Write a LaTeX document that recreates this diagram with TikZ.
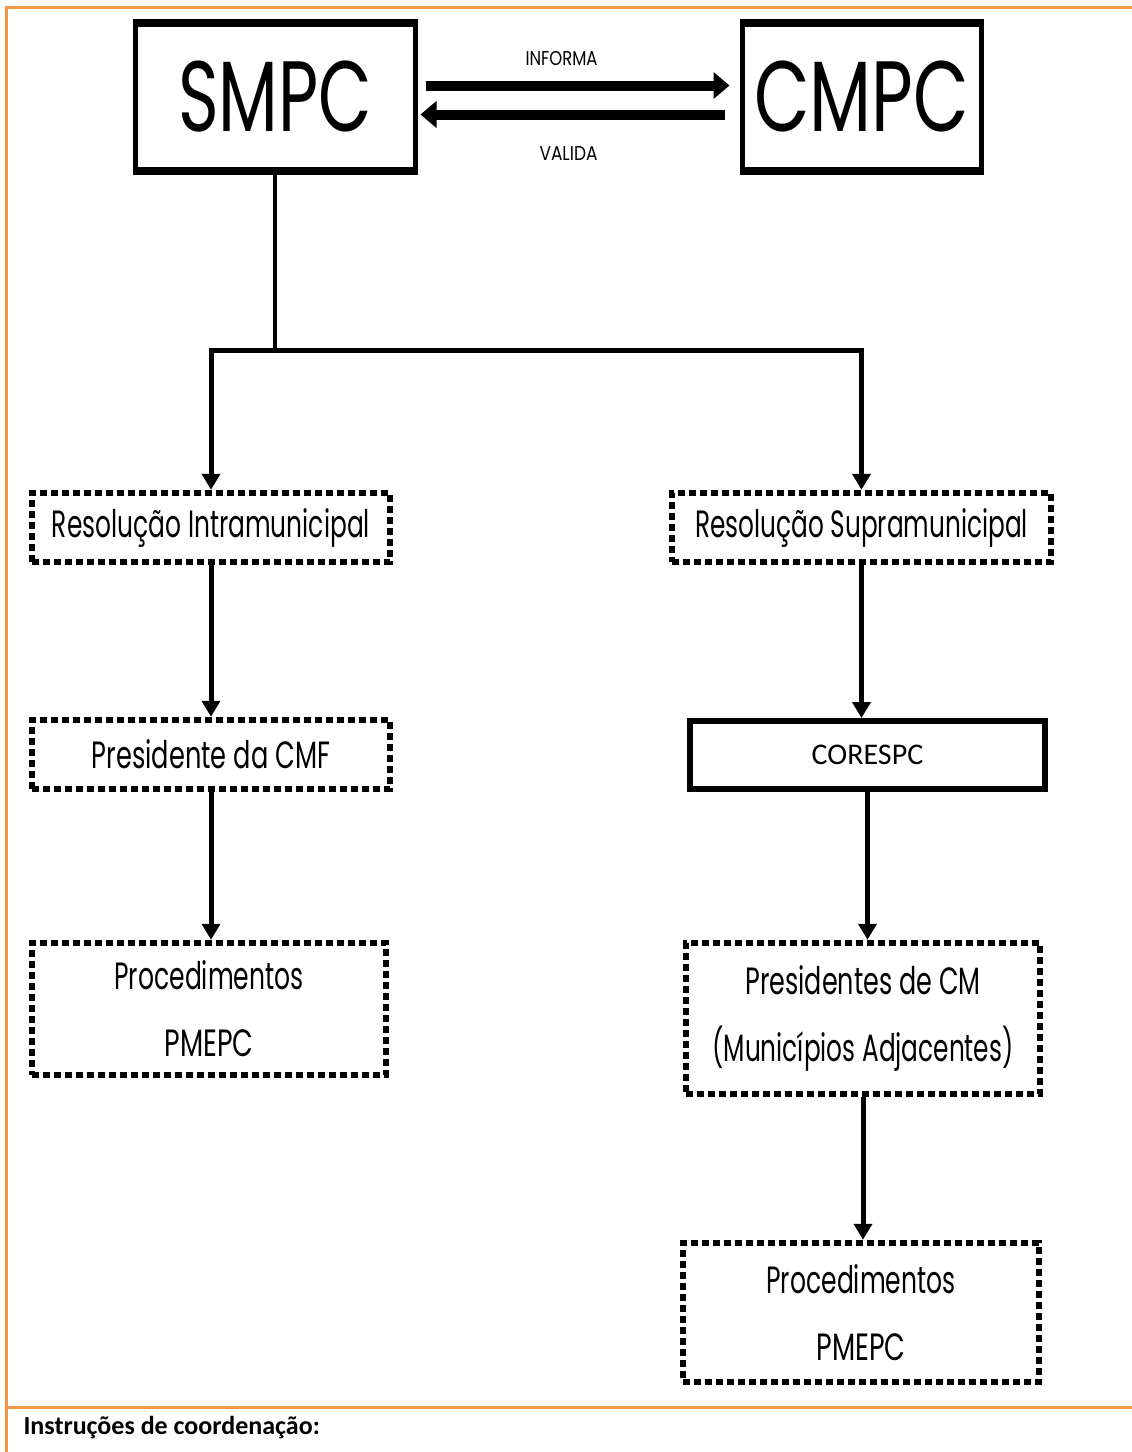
\documentclass[tikz,border=0pt]{standalone}
\usepackage{fontspec}
\usepackage{graphicx}
\usetikzlibrary{arrows.meta}
\setmainfont{Poppins}
\newfontfamily\calib{Carlito}
\definecolor{frameorange}{HTML}{F79646}
% text squeezed to a given width (pt), at a given font size (pt)
\newcommand{\fitto}[3]{\resizebox{#1pt}{\height}{\fontsize{#2pt}{#2pt}\selectfont #3}}

\tikzset{
  mainbox/.style={draw, line width=5pt, inner sep=0pt, fill=white},
  solidbox/.style={draw, line width=6pt, inner sep=0pt, fill=white},
  dotbox/.style={draw, line width=6.5pt, dash pattern=on 7pt off 4pt,
                 inner sep=0pt, align=center, fill=white,
                 font=\fontsize{38pt}{67pt}\selectfont},
  flow/.style={line width=5pt, -{Triangle[length=16pt,width=18pt]}},
  link/.style={line width=10pt, -{Triangle[length=16pt,width=26pt]}},
  heavyedge/.style={line width=8pt},
}

\begin{document}
\begin{tikzpicture}[x=1pt,y=-1pt]
\useasboundingbox (0,0) rectangle (1132,1452);
\fill[white] (0,0) rectangle (1132,1452);

% frame
\draw[frameorange, line width=3pt] (1132,7) -- (6,7) -- (6,1452);
\draw[frameorange, line width=3pt] (6,1407) -- (1132,1407);

% top pair
\node[mainbox, minimum width=280pt, minimum height=151pt] (smpc) at (275,96.5)
  {\fitto{194}{100}{SMPC}};
\node[mainbox, minimum width=239pt, minimum height=151pt] (cmpc) at (861.5,96.5)
  {\fitto{215}{100}{CMPC}};
\foreach \b in {smpc,cmpc}{
  \draw[heavyedge] ([yshift=-4pt]\b.north west) -- ([yshift=-4pt]\b.north east);
  \draw[heavyedge] ([yshift=4pt]\b.south west) -- ([yshift=4pt]\b.south east);
}

\draw[link, shorten <=8pt, shorten >=10pt] ([yshift=11pt]smpc.east) -- ([yshift=11pt]cmpc.west)
  node[midway, above=12pt, xshift=-17pt] (informa) {\fitto{72}{20}{INFORMA}};
\draw[link, shorten <=15pt, shorten >=3pt] ([yshift=-18pt]cmpc.west) -- ([yshift=-18pt]smpc.east)
  node[midway, below=24pt, xshift=-10pt] (valida) {\fitto{58}{20}{VALIDA}};

% left branch
\node[dotbox, minimum width=358pt, minimum height=69pt] (ri) at (211,527.5)
  {\fitto{318}{38}{Resolução Intramunicipal}};
\node[dotbox, minimum width=358pt, minimum height=69pt] (pcmf) at (211,754.5)
  {\fitto{238}{38}{Presidente da CMF}};
\node[dotbox, minimum width=354pt, minimum height=132pt] (proc1) at (209,1009)
  {\fitto{189}{38}{Procedimentos}\\\fitto{89}{38}{PMEPC}};

% right branch
\node[dotbox, minimum width=379pt, minimum height=69pt] (rs) at (861.5,527.5)
  {\fitto{333}{38}{Resolução Supramunicipal}};
\node[solidbox, minimum width=355pt, minimum height=68pt] (corespc) at (867.5,755)
  {\calib\fontsize{30pt}{30pt}\selectfont CORESPC};
\node[dotbox, minimum width=354pt, minimum height=151pt] (pcm) at (863,1018.5)
  {\fitto{235}{38}{Presidentes de CM}\\\fitto{301}{38}{(Municípios Adjacentes)}};
\node[dotbox, minimum width=356pt, minimum height=139pt] (proc2) at (861,1312.5)
  {\fitto{189}{38}{Procedimentos}\\\fitto{89}{38}{PMEPC}};

% tree connectors
\coordinate (split) at (275,350);
\draw[line width=4pt] (smpc.south) -- (split);
\draw[flow] (split) -| (ri.north);
\draw[flow] (split) -| (rs.north);
\draw[flow] (ri.south) -- (pcmf.north);
\draw[flow] (pcmf.south) -- (pcmf.south |- proc1.north);
\draw[flow] (rs.south) -- (rs.south |- corespc.north);
\draw[flow] (corespc.south) -- (corespc.south |- pcm.north);
\draw[flow] (pcm.south) -- (pcm.south |- proc2.north);

% footer
\node[anchor=base west, font=\calib\bfseries\fontsize{26pt}{26pt}\selectfont] (instr) at (20,1434)
  {Instruções de coordenação:};
\end{tikzpicture}
\end{document}
